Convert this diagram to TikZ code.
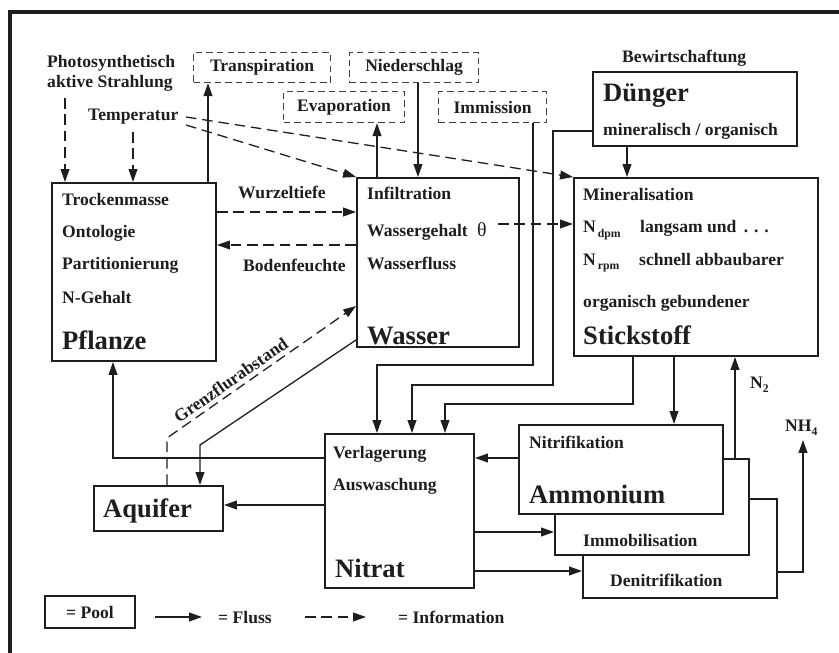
\documentclass[tikz,border=0pt]{standalone}
\usepackage{fontspec}
\setmainfont{Liberation Serif}
\usetikzlibrary{arrows.meta}
\definecolor{ink}{HTML}{1E1E1E}
\newcommand\sml{\fontsize{15}{18}\selectfont\bfseries}
\newcommand\bigf{\fontsize{22.7}{27}\selectfont\bfseries}
\newcommand\subf{\fontsize{10}{12}\selectfont\bfseries}
\newcommand\mkbox[6]{\node[#1, minimum width=#5*0.03cm, minimum height=#6*0.03cm] (#2) at (#3,#4) {};}
\begin{document}
\begin{tikzpicture}[x=0.03cm,y=-0.03cm,
  pool/.style={draw=ink, line width=1.7pt, fill=white, anchor=north west, inner sep=0pt},
  src/.style={draw=ink!85, line width=1pt, dash pattern=on 5.5pt off 3.5pt, anchor=north west, inner sep=0pt, font=\sml, text=ink},
  flow/.style={draw=ink, line width=1.1pt, -{Triangle[length=11pt,width=7.5pt]}},
  info/.style={flow, dash pattern=on 9pt off 5pt},
  lbl/.style={anchor=base west, inner sep=0pt, yshift=-0.18cm, font=\sml, text=ink},
  big/.style={anchor=base west, inner sep=0pt, yshift=-0.27cm, font=\bigf, text=ink},
]
\useasboundingbox (0,0) rectangle (839,653);
\fill[white] (0,0) rectangle (839,653);
\draw[ink, line width=2.6pt] (10,653) -- (10,12) -- (839,12);

% pools
\mkbox{pool}{pflanze}{51}{182}{164}{178}
\mkbox{pool}{wasser}{356}{177}{162}{169}
\mkbox{pool}{stick}{573}{177}{244}{178}
\mkbox{pool}{duenger}{592}{71}{204}{74}
\mkbox{pool}{nitrat}{324}{433}{149}{154}
\mkbox{pool}{denit}{582}{498}{194}{99}
\mkbox{pool}{immob}{554}{458}{194}{96}
\mkbox{pool}{ammon}{518}{424}{204}{89}
\mkbox{pool}{aquifer}{93}{485}{129}{45}
\mkbox{pool}{poolbox}{44}{595}{90}{32}

% external sources (dashed boxes)
\node[src, minimum width=137*0.03cm, minimum height=30*0.03cm] (transp) at (193,52) {Transpiration};
\node[src, minimum width=129*0.03cm, minimum height=30*0.03cm] (nieder) at (349,52) {Niederschlag};
\node[src, minimum width=121*0.03cm, minimum height=31*0.03cm] (evap) at (283,91) {Evaporation};
\node[src, minimum width=108*0.03cm, minimum height=31*0.03cm] (immis) at (438,91) {Immission};

% free labels
\node[lbl] (par1) at (47,62) {Photosynthetisch};
\node[lbl] (par2) at (47,82) {aktive Strahlung};
\node[lbl] (temp) at (88,115) {Temperatur};
\node[lbl] (bew) at (622,57) {Bewirtschaftung};
\node[lbl] (wurz) at (238,193) {Wurzeltiefe};
\node[lbl] (bod) at (243,265) {Bodenfeuchte};

% Pflanze
\node[lbl] (p1) at (62,200) {Trockenmasse};
\node[lbl] (p2) at (62,232) {Ontologie};
\node[lbl] (p3) at (62,264) {Partitionierung};
\node[lbl] (p4) at (62,297) {N-Gehalt};
\node[big] (p5) at (62,340) {Pflanze};
% Wasser
\node[lbl] (w1) at (367,194) {Infiltration};
\node[lbl] (w2) at (367,231) {Wassergehalt};
\node[lbl, font=\fontsize{17}{20}\selectfont] (theta) at (477,231) {θ};
\node[lbl] (w3) at (367,264) {Wasserfluss};
\node[big] (w4) at (367,335) {Wasser};
% Stickstoff
\node[lbl] (s1) at (583,195) {Mineralisation};
\node[lbl] (s2) at (583,227) {N\raisebox{-4pt}{\subf\,dpm}};
\node[lbl] (s2b) at (640,227) {langsam und \,.\,\,.\,\,.};
\node[lbl] (s3) at (583,259) {N\raisebox{-4pt}{\subf\,rpm}};
\node[lbl] (s3b) at (639,259) {schnell abbaubarer};
\node[lbl] (s4) at (583,302) {organisch gebundener};
\node[big] (s5) at (583,335) {Stickstoff};
% Duenger
\node[big] (d1) at (603,93) {Dünger};
\node[lbl] (d2) at (603,130) {mineralisch / organisch};
% Ammonium etc.
\node[lbl] (a1) at (529,442) {Nitrifikation};
\node[big] (a2) at (529,494) {Ammonium};
\node[lbl] (i1) at (583,540) {Immobilisation};
\node[lbl] (dn1) at (610,580) {Denitrifikation};
% Nitrat
\node[lbl] (n1) at (333,452) {Verlagerung};
\node[lbl] (n2) at (333,484) {Auswaschung};
\node[big] (n3) at (335,568) {Nitrat};
% Aquifer
\node[big] (aq) at (103,508) {Aquifer};
% N2 / NH4
\node[lbl] (ntwo) at (750,382) {N\raisebox{-4pt}{\subf 2}};
\node[lbl] (nhfour) at (785,425) {NH\raisebox{-4pt}{\subf 4}};

% helper coordinates
\coordinate (parS) at (65,98);
\coordinate (tmpS) at (133,132);
\coordinate (tmpA) at (186,117);
\coordinate (tmpB) at (186,125);
\coordinate (trX) at (208,0);
\coordinate (evX) at (377,0);
\coordinate (niX) at (418,0);
\coordinate (imX) at (533,0);
\coordinate (imY) at (0,365);
\coordinate (n1X) at (377,0);
\coordinate (dY) at (0,131);
\coordinate (dX) at (553,0);
\coordinate (dY2) at (0,385);
\coordinate (n2X) at (412,0);
\coordinate (dsX) at (627,0);
\coordinate (snX) at (633,0);
\coordinate (snY) at (0,404);
\coordinate (n3X) at (445,0);
\coordinate (saX) at (674,0);
\coordinate (ntX) at (735,0);
\coordinate (nhY) at (0,572);
\coordinate (nhX) at (803,0);
\coordinate (nhT) at (0,440);
\coordinate (anY) at (0,458);
\coordinate (npX) at (113,0);
\coordinate (naY) at (0,505);
\coordinate (niY) at (0,532);
\coordinate (ndY) at (0,571);
\coordinate (waY) at (0,340);
\coordinate (waK) at (200,445);
\coordinate (gK) at (167,438);
\coordinate (gY) at (0,306);
\coordinate (wY) at (0,212);
\coordinate (bY) at (0,245);
\coordinate (thS) at (498,224);

% information (dashed)
\draw[info] (parS) -- (pflanze.north -| parS);
\draw[info] (tmpS) -- (pflanze.north -| tmpS);
\draw[info] (tmpB) -- (wasser.north west);
\draw[info] (tmpA) -- (stick.north west);
\draw[info] (pflanze.east |- wY) -- (wasser.west |- wY);
\draw[info] (wasser.west |- bY) -- (pflanze.east |- bY);
\draw[info] (thS) -- (stick.west |- thS);
\draw[info] (aquifer.north -| gK) -- (gK) -- node[sloped, above, pos=0.37, font=\sml, text=ink] (grenz) {Grenzflurabstand} (wasser.west |- gY);

% flows
\draw[flow] (pflanze.north -| trX) -- (transp.south -| trX);
\draw[flow] (wasser.north -| evX) -- (evap.south -| evX);
\draw[flow] (nieder.south -| niX) -- (wasser.north -| niX);
\draw[flow] (immis.south -| imX) -- (imX |- imY) -- (n1X |- imY) -- (nitrat.north -| n1X);
\draw[flow] (duenger.west |- dY) -- (dX |- dY) -- (dX |- dY2) -- (n2X |- dY2) -- (nitrat.north -| n2X);
\draw[flow] (duenger.south -| dsX) -- (stick.north -| dsX);
\draw[flow] (stick.south -| snX) -- (snX |- snY) -- (n3X |- snY) -- (nitrat.north -| n3X);
\draw[flow] (stick.south -| saX) -- (ammon.north -| saX);
\draw[flow] (immob.north -| ntX) -- (stick.south -| ntX);
\draw[flow] (denit.east |- nhY) -- (nhX |- nhY) -- (nhX |- nhT);
\draw[flow] (ammon.west |- anY) -- (nitrat.east |- anY);
\draw[flow] (nitrat.west |- anY) -- (npX |- anY) -- (pflanze.south -| npX);
\draw[flow] (nitrat.west |- naY) -- (aquifer.east |- naY);
\draw[flow] (nitrat.east |- niY) -- (immob.west |- niY);
\draw[flow] (nitrat.east |- ndY) -- (denit.west |- ndY);
\draw[flow] (wasser.west |- waY) -- (waK) -- (aquifer.north -| waK);

% legend
\node[font=\sml, text=ink] (pooltxt) at (poolbox.center) {= Pool};
\coordinate (lf1) at (155,617);
\coordinate (lf2) at (202,617);
\coordinate (li1) at (305,617);
\coordinate (li2) at (366,617);
\draw[flow] (lf1) -- (lf2);
\node[lbl] (flusstxt) at (218,617) {= Fluss};
\draw[info] (li1) -- (li2);
\node[lbl] (infotxt) at (398,617) {= Information};
\end{tikzpicture}
\end{document}
